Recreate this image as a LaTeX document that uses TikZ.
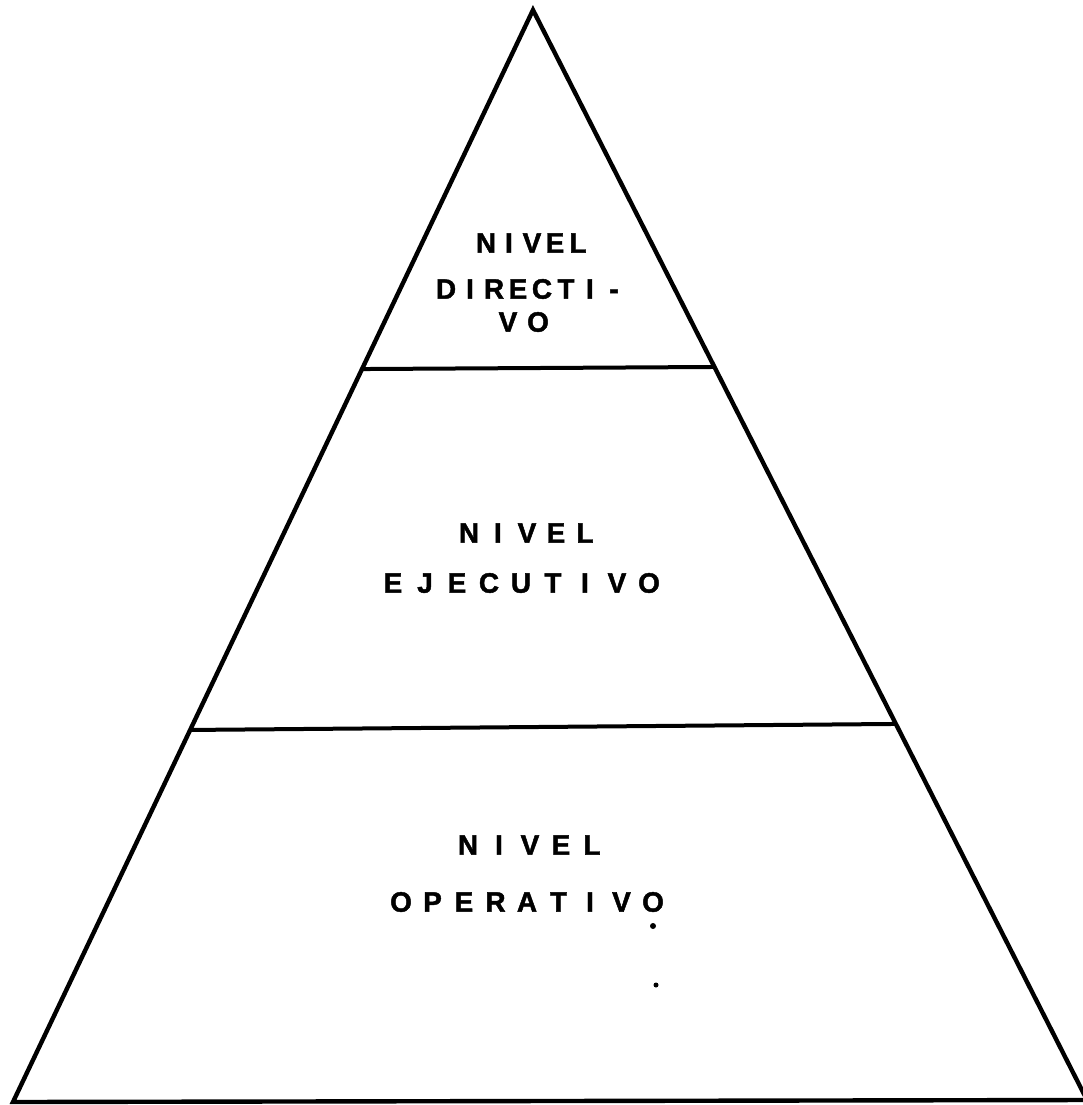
\documentclass[tikz,border=0pt]{standalone}
\usepackage{fontspec}
\setmainfont{Liberation Sans}
\newfontfamily\typefont{Liberation Sans}[BoldFeatures={FakeBold=1.6}]
\usetikzlibrary{calc}
\newlength\lpitch
\def\spc#1{\ifx#1\relax\else\makebox[\lpitch][c]{#1}\expandafter\spc\fi}
\newcommand\pyrword[2]{\setlength\lpitch{#1pt}\spc#2\relax}
\tikzset{
  edge/.style={line width=4.4pt, line join=miter, black},
  divider/.style={line width=4pt, black},
  lbl/.style={inner sep=0pt, font=\typefont\bfseries\fontsize{28}{28}\selectfont},
  speck/.style={fill=black, draw=none}
}
\begin{document}
\begin{tikzpicture}[x=1pt,y=-1pt]
\useasboundingbox (0,0) rectangle (1083,1105);
\fill[white] (0,0) rectangle (1083,1105);
\clip (0,0) rectangle (1083,1105);
\coordinate (A) at (533,10);
\coordinate (BL) at (13,1102);
\coordinate (BR) at (1087,1100);
\draw[edge] (BL) -- (A) -- (BR) -- cycle;
\coordinate (L1) at ($(A)!0.3288!(BL)$);
\coordinate (R1) at ($(A)!0.3275!(BR)$);
\coordinate (L2) at ($(A)!0.6593!(BL)$);
\coordinate (R2) at ($(A)!0.6550!(BR)$);
\draw[divider] (L1) -- (R1);
\draw[divider] (L2) -- (R2);
% top level
\node[lbl] (d1) at (532,243) {\pyrword{23}{NIVEL}};
\node[lbl] (d2) at (530,289) {\pyrword{24}{DIRECTI-}};
\node[lbl] (d3) at (523,322) {\pyrword{30}{VO}};
% middle level
\node[lbl] (e1) at (527,533) {\pyrword{29}{NIVEL}};
\node[lbl] (e2) at (521,583) {\pyrword{32}{EJECUTIVO}};
% bottom level
\node[lbl] (o1) at (530,845) {\pyrword{31}{NIVEL}};
\node[lbl] (o2) at (527,902) {\pyrword{31.5}{OPERATIVO}};
% scanning specks
\fill[speck] (653,926) circle (3);
\fill[speck] (656,985) circle (2.5);
\end{tikzpicture}
\end{document}
